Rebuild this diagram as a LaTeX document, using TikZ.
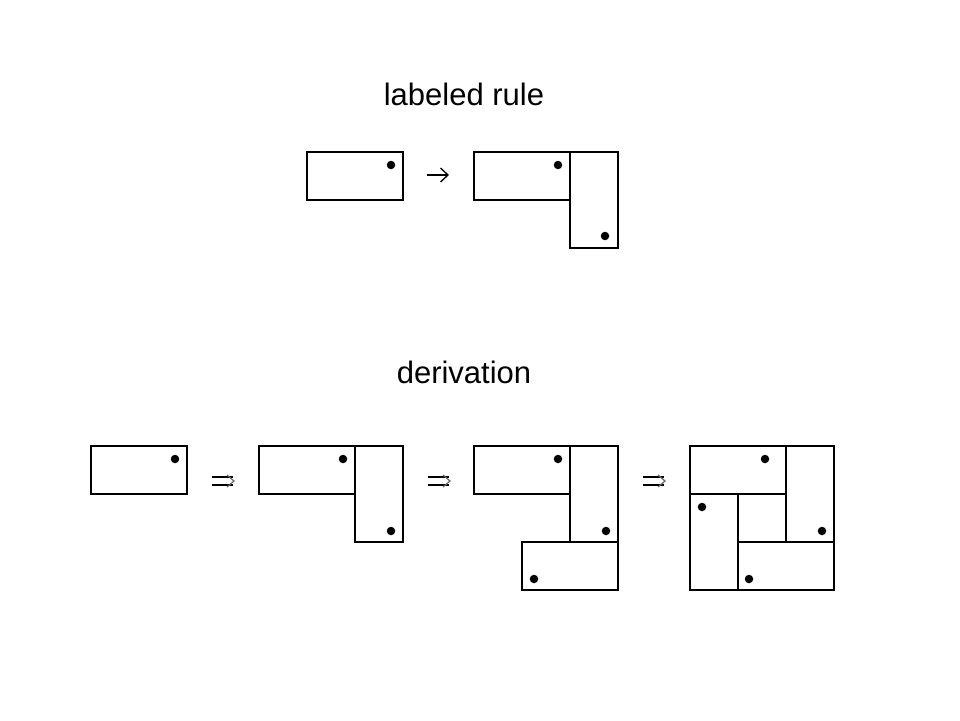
\documentclass[tikz,border=0pt]{standalone}
\usepackage{fontspec}
\setmainfont{Liberation Sans}
\begin{document}
\begin{tikzpicture}[x=1pt,y=-1pt,
  box/.style={draw,line width=1.3pt,inner sep=0pt,outer sep=0pt,minimum width=96pt,minimum height=48pt},
  tallbox/.style={box,minimum width=48pt,minimum height=96pt},
  sqbox/.style={box,minimum width=48pt,minimum height=48pt},
  dot/.style={circle,fill=black,draw=none,inner sep=0pt,outer sep=0pt,minimum size=8.5pt},
  title/.style={font=\fontsize{31}{36}\selectfont,anchor=base,inner sep=0pt},
  arr/.style={line width=1.3pt},
  head/.style={line width=1.2pt,black!60}]
\useasboundingbox (0,0) rectangle (960,720);
% titles
\node[title] (t1) at (464,105) {labeled rule};
\node[title] (t2) at (464,383) {derivation};
% rule
\node[box] (rl) at (355,176) {};
\node[dot] (rld) at (391,165) {};
\coordinate (ra1) at (427,175);
\coordinate (ra2) at (448,175);
\draw[arr] (ra1) -- (ra2);
\draw[arr] (440.5,168) -- (ra2) -- (440.5,182);
\node[box] (rr1) at (522,176) {};
\node[tallbox] (rr2) at (594,200) {};
\node[dot] (rrd1) at (558,165) {};
\node[dot] (rrd2) at (605,236) {};
% derivation step 1
\node[box] (d1) at (139,470) {};
\node[dot] (d1d) at (175,459) {};
% step 2
\node[box] (d2a) at (307,470) {};
\node[tallbox] (d2b) at (379,494) {};
\node[dot] (d2d1) at (343,459) {};
\node[dot] (d2d2) at (391,531) {};
% step 3
\node[box] (d3a) at (522,470) {};
\node[tallbox] (d3b) at (594,494) {};
\node[box] (d3c) at (570,566) {};
\node[dot] (d3d1) at (558,459) {};
\node[dot] (d3d2) at (606,531) {};
\node[dot] (d3d3) at (534,579) {};
% step 4
\node[box] (d4a) at (738,470) {};
\node[tallbox] (d4b) at (810,494) {};
\node[box] (d4c) at (786,566) {};
\node[tallbox] (d4d) at (714,542) {};
\node[sqbox] (d4e) at (762,518) {};
\node[dot] (d4d1) at (765,459) {};
\node[dot] (d4d2) at (822,531) {};
\node[dot] (d4d3) at (749,579) {};
\node[dot] (d4d4) at (702,507) {};
% double arrows
\foreach \x [count=\i] in {212,428,643} {
  \coordinate (da\i) at (\x,481);
  \draw[arr] (\x,477) -- (\x+21,477);
  \draw[arr] (\x,485) -- (\x+21,485);
  \draw[head] (\x+15,475) -- (\x+22,481) -- (\x+15,487);
}
\end{tikzpicture}
\end{document}
